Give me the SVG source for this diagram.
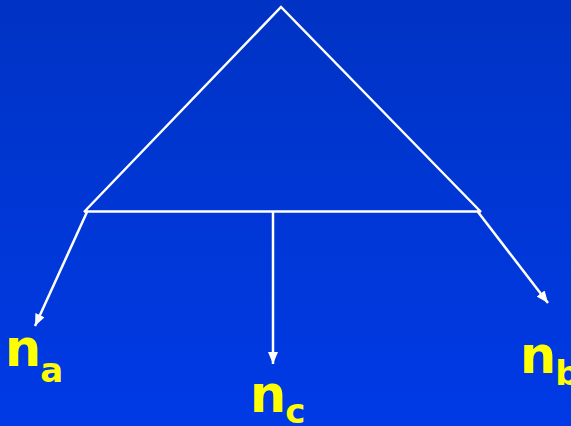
<svg xmlns="http://www.w3.org/2000/svg" width="571" height="426" viewBox="0 0 571 426">
<defs>
<linearGradient id="bg" x1="0" y1="0" x2="0" y2="1">
<stop offset="0" stop-color="#0033C4"/>
<stop offset="1" stop-color="#003AE6"/>
</linearGradient>
<marker id="ah" viewBox="0 0 12 10" refX="12" refY="5" markerWidth="12" markerHeight="10" markerUnits="userSpaceOnUse" orient="auto">
<path d="M0,0 L12,5 L0,10 Z" fill="#fff"/>
</marker>
<style>
.ln{stroke:#fff;stroke-width:2.5;fill:none}
.lbl{font-family:"DejaVu Sans",Verdana,sans-serif;font-weight:bold;fill:#ffff00}
.n{font-size:51px}
.s{font-size:34px}
</style>
</defs>
<rect width="571" height="426" fill="url(#bg)"/>
<g id="tree">
<path class="ln" d="M84,212 L281,7 L481,212 M84,211.5 H481"/>
</g>
<g id="connectors">
<line class="ln" x1="87" y1="212" x2="35" y2="326" marker-end="url(#ah)"/>
<line class="ln" x1="273" y1="211" x2="273" y2="364" marker-end="url(#ah)"/>
<line class="ln" x1="478" y1="212" x2="548" y2="303" marker-end="url(#ah)"/>
</g>
<g id="na"><text class="lbl" x="5" y="366"><tspan class="n">n</tspan><tspan class="s" dx="-1" dy="16">a</tspan></text></g>
<g id="nc"><text class="lbl" x="250" y="412"><tspan class="n">n</tspan><tspan class="s" dx="-1" dy="11">c</tspan></text></g>
<g id="nb"><text class="lbl" x="520" y="373"><tspan class="n">n</tspan><tspan class="s" dx="-1" dy="12">b</tspan></text></g>
</svg>
